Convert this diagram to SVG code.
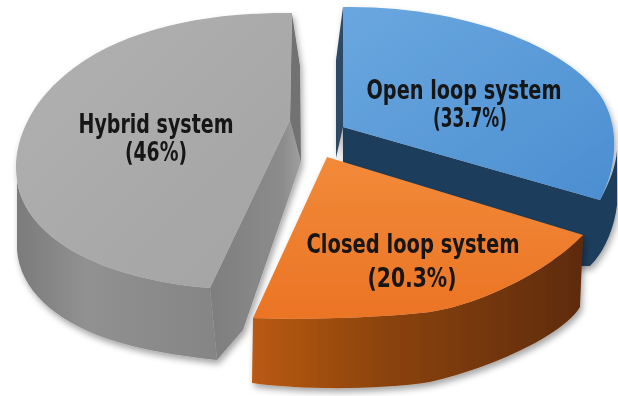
<svg xmlns="http://www.w3.org/2000/svg" width="618" height="396" viewBox="0 0 618 396">
<defs>
<style>
.lbl{font-family:'Liberation Sans Narrow','DejaVu Sans Condensed','Liberation Sans',sans-serif;font-weight:bold;font-size:27px;fill:#141414;text-anchor:middle}
</style>
<filter id="sh" x="-10%" y="-10%" width="120%" height="125%">
<feDropShadow dx="2" dy="4" stdDeviation="3" flood-color="#000" flood-opacity="0.35"/>
</filter>
<linearGradient id="gTop" x1="0" y1="0" x2="1" y2="1">
<stop offset="0" stop-color="#b1b1b1"/><stop offset="1" stop-color="#a3a3a3"/>
</linearGradient>
<linearGradient id="gRim" x1="17" y1="0" x2="215" y2="0" gradientUnits="userSpaceOnUse">
<stop offset="0" stop-color="#7b7b7b"/><stop offset="0.35" stop-color="#919191"/><stop offset="1" stop-color="#858585"/>
</linearGradient>
<linearGradient id="gCut" x1="0" y1="0" x2="1" y2="0">
<stop offset="0" stop-color="#7e7e7e"/><stop offset="0.8" stop-color="#8c8c8c"/><stop offset="1" stop-color="#a0a0a0"/>
</linearGradient>
<linearGradient id="bTop" x1="0" y1="0" x2="1" y2="1">
<stop offset="0" stop-color="#6aa7df"/><stop offset="1" stop-color="#4b8ed1"/>
</linearGradient>
<linearGradient id="oTop" x1="0" y1="0" x2="0" y2="1">
<stop offset="0" stop-color="#f28a3a"/><stop offset="1" stop-color="#eb7424"/>
</linearGradient>
<linearGradient id="oRim" x1="253" y1="0" x2="583" y2="0" gradientUnits="userSpaceOnUse">
<stop offset="0" stop-color="#b95a12"/><stop offset="0.4" stop-color="#8b4310"/><stop offset="1" stop-color="#5e2b08"/>
</linearGradient>
</defs>
<rect width="618" height="396" fill="#ffffff"/>

<g id="hybrid" filter="url(#sh)">
<path d="M17,180 C22,220 60,250 110,268 C145,280 180,286 210,288 L217,360 C180,356 140,350 105,338 C55,320 20,290 17,250 Z" fill="url(#gRim)"/>
<path d="M290,120 L210,288 L217,360 L243,330 L301,162 Z" fill="url(#gCut)"/>
<path d="M292,14 L300,66 L301,162 L290,120 Z" fill="#727272"/>
<path d="M292,13 C210,12 120,28 65,75 C25,108 12,150 17,180 C22,220 60,250 110,268 C145,280 180,286 210,288 L290,120 Z" fill="url(#gTop)"/>
<text class="lbl" x="156" y="133" textLength="155" lengthAdjust="spacingAndGlyphs">Hybrid system</text>
<text class="lbl" x="156" y="161" textLength="62" lengthAdjust="spacingAndGlyphs">(46%)</text>
</g>

<g id="open-loop" filter="url(#sh)">
<path d="M343,7 L336,60 L336,158 L343,127 Z" fill="#2f4a66"/>
<path d="M343,127 L600,200 C610,182 616,165 617,150 L617,205 C614,230 604,252 590,266 L575,266 L343,200 Z" fill="#1f3d5c"/>
<path d="M343,7 C450,5 560,40 600,95 C620,125 618,165 600,200 L343,127 Z" fill="url(#bTop)"/>
<text class="lbl" x="464" y="99" textLength="195" lengthAdjust="spacingAndGlyphs">Open loop system</text>
<text class="lbl" x="470" y="127" textLength="74" lengthAdjust="spacingAndGlyphs">(33.7%)</text>
</g>

<g id="closed-loop" filter="url(#sh)">
<path d="M253,318 C300,320 380,318 430,312 C480,305 550,270 583,235 L580,307 C570,325 520,360 430,382 C380,390 300,390 252,383 Z" fill="url(#oRim)"/>
<path d="M327,157 L253,318 C300,320 380,318 430,312 C480,305 550,270 583,235 Z" fill="url(#oTop)"/>
<text class="lbl" x="413" y="253" textLength="213" lengthAdjust="spacingAndGlyphs">Closed loop system</text>
<text class="lbl" x="412" y="287" textLength="89" lengthAdjust="spacingAndGlyphs">(20.3%)</text>
</g>
</svg>
